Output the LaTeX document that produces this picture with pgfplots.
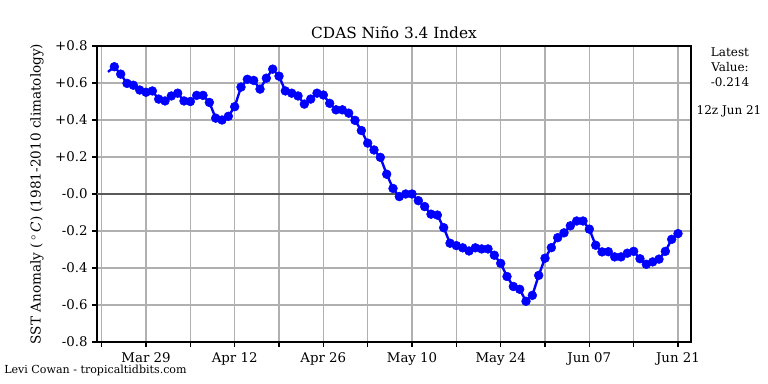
\documentclass[border=0pt]{standalone}
\usepackage{pgfplots}
\pgfplotsset{compat=1.18}
\usepackage{fontspec}
\setmainfont{DejaVu Serif}
\pgfplotstableread{
d v
-6 0.66
-5 0.688
-4 0.648
-3 0.598
-2 0.588
-1 0.562
0 0.55
1 0.557
2 0.513
3 0.503
4 0.53
5 0.545
6 0.503
7 0.50
8 0.533
9 0.533
10 0.495
11 0.41
12 0.40
13 0.42
14 0.472
15 0.578
16 0.62
17 0.614
18 0.567
19 0.626
20 0.675
21 0.637
22 0.557
23 0.545
24 0.53
25 0.486
26 0.513
27 0.545
28 0.535
29 0.49
30 0.455
31 0.455
32 0.437
33 0.398
34 0.343
35 0.275
36 0.238
37 0.198
38 0.107
39 0.03
40 -0.014
41 0.0
42 0.0
43 -0.036
44 -0.068
45 -0.109
46 -0.114
47 -0.182
48 -0.266
49 -0.279
50 -0.291
51 -0.308
52 -0.291
53 -0.297
54 -0.297
55 -0.331
56 -0.375
57 -0.446
58 -0.50
59 -0.515
60 -0.58
61 -0.548
62 -0.44
63 -0.347
64 -0.29
65 -0.236
66 -0.21
67 -0.172
68 -0.146
69 -0.146
70 -0.19
71 -0.277
72 -0.313
73 -0.312
74 -0.34
75 -0.34
76 -0.32
77 -0.31
78 -0.35
79 -0.38
80 -0.367
81 -0.352
82 -0.31
83 -0.245
84 -0.214
}\nino
\begin{document}
\begin{tikzpicture}
\path[use as bounding box] (0,0) rectangle (576pt,288pt);
\begin{axis}[
  at={(72.75pt,31.5pt)}, anchor=south west,
  scale only axis, width=445.5pt, height=222pt,
  xmin=-7.74, xmax=86.05, ymin=-0.8, ymax=0.8,
  xtick={-7,0,7,14,21,28,35,42,49,56,63,70,77,84},
  xticklabels={,Mar 29,,Apr 12,,Apr 26,,May 10,,May 24,,Jun 07,,Jun 21},
  ytick={-0.8,-0.6,-0.4,-0.2,0,0.2,0.4,0.6,0.8},
  yticklabels={-0.8,-0.6,-0.4,-0.2,-0.0,+0.2,+0.4,+0.6,+0.8},
  xtick pos=bottom, ytick pos=left,
  tick align=outside, major tick length=3.5pt,
  tick style={black, line width=0.8pt},
  grid=major, grid style={color=black!31, line width=0.8pt},
  axis line style={line width=0.8pt},
  ticklabel style={font=\fontsize{10}{12}\selectfont},
  xticklabel style={inner sep=0pt, yshift=-4.6pt},
]
\addplot[no marks, color=black!65, line width=1.1pt] coordinates {(-7.74,0) (86.05,0)};
\addplot[no marks, blue, line width=1.8pt] table[x=d,y=v] {\nino};
\addplot[only marks, blue, mark=*, mark size=3.3pt, restrict x to domain=-5.5:90] table[x=d,y=v] {\nino};
\end{axis}
\node[font=\fontsize{11.5}{14}\selectfont] at (295.5pt,263.25pt) {CDAS Niño 3.4 Index};
\node[align=center, font=\fontsize{9}{11.25}\selectfont] at (547.5pt,237.75pt) {Latest\\Value:\\-0.214};
\node[font=\fontsize{9}{11}\selectfont] at (546.75pt,204.75pt) {12z Jun 21};
\node[anchor=west, font=\fontsize{8.3}{10}\selectfont, inner sep=0pt] at (3pt,10.5pt) {Levi Cowan - tropicaltidbits.com};
\node[rotate=90, font=\fontsize{10.2}{12}\selectfont] at (27.75pt,142.5pt) {SST Anomaly (\,$^\circ$\,\textit{C}) (1981-2010 climatology)};
\end{tikzpicture}
\end{document}
